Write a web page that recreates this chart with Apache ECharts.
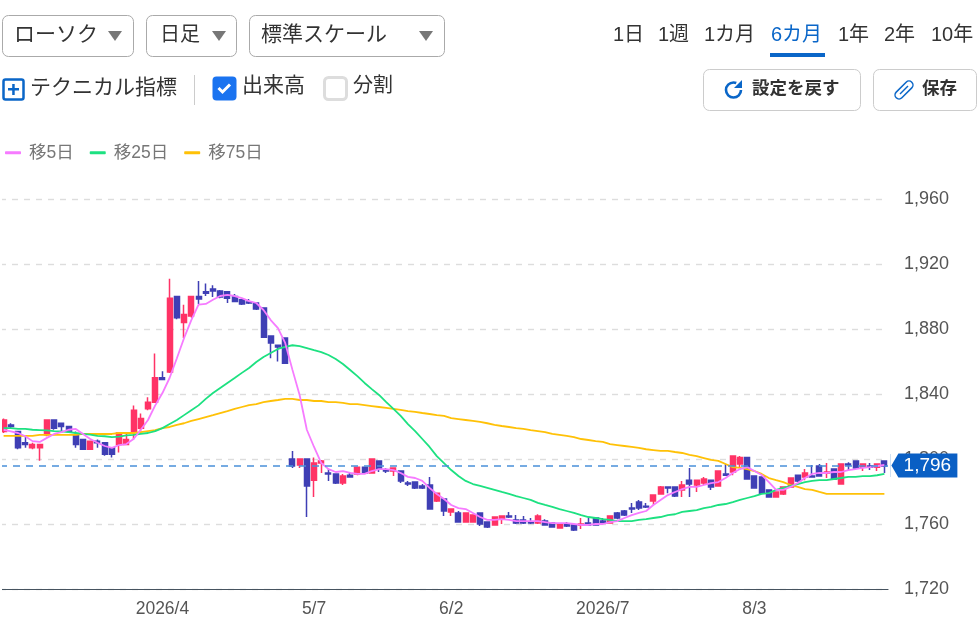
<!DOCTYPE html>
<html>
<head>
<meta charset="utf-8">
<style>html,body{margin:0;padding:0;background:#fff}#c{width:980px;height:629px}</style>
<script src="https://cdn.jsdelivr.net/npm/echarts@6/dist/echarts.min.js"></script>
</head>
<body>
<div id="c"></div>
<script>
const tickLabels = {22:'2026/4',43:'5/7',62:'6/2',83:'2026/7',104:'8/3'};
const yTicks = {min:1720,max:1960,interval:40};
const lastPrice = 1796;
// open, close, low, high
const candles = [
[1817,1824,1816,1825],[1821,1820,1819,1822],[1817,1807,1806,1817],[1810,1809,1807,1814],[1807,1809,1806,1810],
[1807,1809,1799,1809],[1815,1824,1814,1824],[1824,1819,1818,1824],[1822,1820,1816,1822],[1820,1817,1816,1820],
[1815,1809,1807,1817],[1812,1806,1806,1812],[1806,1811,1805.5,1811],[1811,1810,1807,1812],[1810,1803,1802,1810],
[1807,1803,1801,1807],[1809,1816,1804,1816],[1809,1812,1808.5,1816],[1817,1830,1812,1833],[1819,1825,1817,1828],
[1831,1835,1830,1838],[1835,1850,1835,1865],[1850,1849,1848.5,1854],[1853.5,1899,1853,1911],[1900,1887,1886,1900],
[1884,1889,1874.5,1895],[1888,1900,1887,1900],[1900,1898.5,1895.4,1909.5],[1903,1902,1900.3,1908],[1904.6,1903.4,1899.7,1907],
[1903.4,1899.7,1899,1904],[1903,1899,1896,1903],[1900,1897,1896.5,1901.5],[1898,1895.4,1894.8,1898],[1896.6,1896,1895.4,1898.5],
[1896,1892.3,1891.7,1896],[1893,1875,1875,1893],[1875.7,1871.4,1862,1875.7],[1870,1869,1860,1870],[1874.5,1859,1859,1875],
[1800,1795.7,1794.5,1805],[1796.3,1800,1794.5,1800],[1800,1783.4,1764.3,1800],[1787,1797.5,1776.6,1801],[1797.5,1798.8,1791.4,1799.4],
[1791.4,1790.8,1786.5,1793.8],[1790.8,1785.2,1784.6,1790.8],[1785.2,1789.5,1784,1790.8],[1790,1789,1788.5,1792],[1790.8,1795,1790,1795],
[1795,1791.4,1790.8,1795],[1791.4,1800,1791.4,1800],[1798.8,1793.8,1792,1798.8],[1793.2,1792.6,1791.4,1794.5],[1792.6,1794.5,1789.5,1794.5],
[1792.6,1786.5,1785.2,1792.6],[1785.2,1784.6,1783.4,1786.5],[1785.8,1782.2,1781.5,1785.8],[1783.4,1782.2,1781.5,1784.6],[1784,1769.2,1769.2,1789],
[1774.2,1779,1773.5,1779],[1775.4,1768,1765,1775.4],[1767.4,1769.2,1765,1769.2],[1766.8,1761.2,1761.2,1768],[1761.2,1766.8,1761.2,1766.8],
[1761.2,1765.5,1761.2,1765.5],[1766.8,1760,1758.8,1766.8],[1761.2,1758.2,1757.5,1761.2],[1759.4,1764.3,1759.4,1764.3],[1763,1765,1760,1765],
[1765,1764.3,1763.7,1767.4],[1762.5,1760.6,1760,1765.5],[1762.5,1760.6,1760,1765],[1761.2,1760.6,1760,1763.7],[1760.6,1765,1760,1766],
[1761.8,1759.4,1759,1763],[1760.6,1758.2,1758,1760.6],[1757.5,1760,1757.5,1760],[1760,1758.8,1758.2,1761.2],[1759.4,1756.3,1755.7,1759.4],
[1759.4,1760,1757,1763.7],[1760.6,1759.4,1759,1763.7],[1763.7,1759.4,1759.4,1763.7],[1761.8,1760.6,1760.6,1763.7],[1760.6,1765,1760.6,1765],
[1766.8,1763.7,1763,1767.4],[1768,1765.5,1765,1768.6],[1769.8,1769.2,1766.8,1773],[1773.5,1769.8,1768.6,1774.8],[1771,1770.5,1769.8,1773],
[1774.2,1777.8,1771.7,1777.8],[1778.5,1782.8,1778,1783.4],[1782.8,1782.2,1779,1782.8],[1782.8,1777.2,1776.6,1782.8],[1781,1784,1776.6,1786.5],
[1787,1784.6,1776.6,1794.5],[1784,1787,1779.7,1787],[1785.2,1787.7,1784,1789],[1787,1782.8,1781,1787],[1783.4,1792.6,1783.4,1792.6],
[1790.8,1790,1790,1797],[1792,1801.8,1790,1801.8],[1797,1801,1795,1801.8],[1801,1787.7,1787.7,1801],[1789.5,1782.2,1782.2,1789.5],
[1789,1779,1779,1789],[1781,1776.6,1776.6,1781],[1776.6,1779.7,1776.6,1779.7],[1778.5,1782.8,1777.8,1782.8],[1782.8,1788.3,1782.2,1788.3],
[1790,1786.5,1785.8,1790],[1789,1791.4,1787,1793.8],[1789.5,1789,1789,1796.3],[1795.7,1789.5,1789.5,1797],[1791.4,1792,1788.3,1797.5],
[1793.8,1787.7,1787.7,1793.8],[1784.6,1797,1784.6,1797],[1797,1796.3,1793.2,1798],[1798.8,1794.5,1794.5,1798.8],[1795,1797,1792.6,1797],
[1795.7,1795,1793.2,1797.5],[1795,1797,1792.6,1797],[1798.8,1795.7,1791.4,1798.8]
];
const ma5 = [1818,1817,1816,1814,1811,1810.5,1813,1815.4,1816.6,1818,1818.5,1815.4,1812.3,1810,1808,1806.8,1808.6,1809.2,1812.3,1818,1824,1833,1840.6,1850,1862,1874.5,1885.5,1895,1895.4,1898,1900.3,1901,1900.3,1899,1897.2,1896,1891.7,1885.5,1880.6,1871.4,1855,1839.4,1818,1807.4,1797.5,1793.8,1792,1792.6,1791.4,1790.8,1790.8,1792.6,1793.8,1793.8,1793.2,1791.4,1789,1788.3,1786.5,1782.2,1778.5,1775.4,1771.7,1769.8,1769.2,1766.8,1764.3,1762.5,1762.5,1763,1762.5,1761.8,1761.8,1761.8,1761.8,1761.2,1760.6,1760.6,1760.6,1760,1759.4,1759.4,1760,1760,1761.2,1761.8,1763.7,1765.5,1766.8,1768,1771.7,1774.8,1777.8,1779.7,1781.5,1782.8,1782.8,1784,1785.2,1785.8,1788.3,1791.4,1793.8,1795,1792.6,1790.2,1785.8,1781,1781,1782.8,1785.2,1788.3,1790.8,1791.4,1791.4,1792,1792,1793.2,1793.8,1794.5,1795,1795.7,1796.3];
const ma25 = [1819,1819,1818.5,1818.5,1818,1817.8,1817.6,1817.2,1817,1816.6,1816,1815.4,1815,1814.2,1814,1813.5,1813.8,1814.5,1814.8,1815.4,1816,1817.2,1819,1821.5,1824,1827,1830,1833,1837,1840.6,1843.7,1846.8,1849.8,1853,1856,1859.7,1862.8,1865.2,1867.7,1869,1870,1869.5,1868.3,1867,1865.8,1864,1861.5,1858.5,1854.8,1851,1846.8,1843,1839.4,1835,1830.8,1826.5,1821.5,1817.2,1812.3,1807.4,1801.8,1797.5,1793.2,1789.5,1786.5,1784.6,1783.4,1782.2,1781,1779.7,1778.5,1777.2,1776,1774.8,1773,1771.7,1770.5,1769.2,1768,1766.8,1765.5,1764.3,1763.7,1763,1762.5,1761.8,1761.8,1761.8,1762.5,1763,1763.7,1764.3,1765.5,1766,1767.4,1768,1768.6,1769.8,1770.5,1771.7,1772.3,1773.5,1774.8,1776,1777.2,1778.5,1779,1781,1782.2,1783.4,1784.6,1785.8,1786.5,1787,1787,1787.7,1788.3,1789,1789,1789.5,1789.5,1790,1790.8];
const ma75 = [1814.2,1814.2,1814.2,1814.2,1814.2,1814.8,1814.8,1814.8,1814.8,1814.8,1814.8,1815.4,1815.4,1815.4,1815.4,1815.4,1816,1816,1816,1816.6,1817.2,1817.8,1819,1819.7,1821,1822,1823.4,1824.6,1825.8,1827,1828.3,1829.5,1830.8,1832,1833.2,1833.8,1835,1835.7,1836.3,1837,1837,1836.3,1836.3,1835.7,1835.7,1835,1835,1834.5,1833.8,1833.8,1833.2,1832.6,1832,1831.4,1830.8,1830.2,1829.5,1829,1828.3,1827.7,1827,1826.5,1825.2,1824.6,1824,1823.4,1822.8,1822,1821,1820.3,1819.7,1819,1818.5,1817.8,1817.2,1816.6,1815.4,1814.8,1814.2,1813.5,1812.3,1811.7,1811,1810.5,1809.2,1808.6,1808,1807.4,1806.8,1806,1805.5,1805,1805,1804.3,1803.7,1802.5,1801.8,1800.6,1799.4,1798.8,1796.9,1795,1794.5,1793.8,1792.6,1790.8,1788.3,1787,1785.8,1784,1782.8,1781.5,1781,1779.7,1778.5,1778.5,1778.5,1778.5,1778.5,1778.5,1778.5,1778.5,1778.5];
const categories = candles.map((_, i) => tickLabels[i] || ('d' + i));

const CJK = "'Liberation Sans','Noto Sans CJK JP',sans-serif";
const dark = '#333333', blue = '#0a66c8';
function txt(x, y, s, size, fill, weight){
  return {type:'text', silent:true, z:10, x:x, y:y+1, style:{text:s, font:(weight||'normal')+' '+size+'px '+CJK, fill:fill||dark, textVerticalAlign:'middle', textAlign:'left'}};
}
function box(x, y, w, h, stroke, lw, r, fill){
  return {type:'rect', silent:true, z:9, shape:{x:x+.5,y:y+.5,width:w,height:h,r:r}, style:{fill:fill||'#fff',stroke:stroke,lineWidth:lw}};
}
function tri(x, y){
  return {type:'polygon', silent:true, z:10, shape:{points:[[x,y],[x+14,y],[x+7,y+10]]}, style:{fill:'#777'}};
}
const chrome = [
  {type:'rect', silent:true, z:9, shape:{x:0,y:190,width:2,height:405}, style:{fill:'#fff'}},
  {type:'line', silent:true, z:9, shape:{x1:890.5,y1:454,x2:890.5,y2:477}, style:{stroke:'#cfe0f2',lineWidth:1}},
  box(2,15,131,41,'#aaaaaa',1,6), txt(14,34,'ローソク',21), tri(108,31),
  box(146,15,90,41,'#aaaaaa',1,6), txt(160,34,'日足',20), tri(212,31),
  box(249,15,195,41,'#aaaaaa',1,6), txt(261,34,'標準スケール',21), tri(419,31),
  txt(613,34,'1日',20), txt(658,34,'1週',20), txt(704,34,'1カ月',20), txt(771,34,'6カ月',20,blue),
  txt(838,34,'1年',20), txt(884,34,'2年',20), txt(931,34,'10年',20),
  {type:'rect', silent:true, z:10, shape:{x:770,y:53,width:55,height:4}, style:{fill:blue}},
  box(3,79,20,20,blue,2.5,2), 
  {type:'rect', silent:true, z:10, shape:{x:8,y:88,width:11,height:2.5}, style:{fill:blue}},
  {type:'rect', silent:true, z:10, shape:{x:12.2,y:84,width:2.5,height:11}, style:{fill:blue}},
  txt(30,87,'テクニカル指標',21),
  {type:'line', silent:true, z:10, shape:{x1:194.5,y1:75,x2:194.5,y2:105}, style:{stroke:'#cccccc',lineWidth:1}},
  box(212,76,24,24,'#1a73f0',0,4,'#1a73f0'),
  {type:'polyline', silent:true, z:10, shape:{points:[[218.5,88],[222.5,92],[230,84.5]]}, style:{stroke:'#fff',lineWidth:3,fill:null}},
  txt(242,85,'出来高',21),
  box(324,77,22,22,'#dddddd',3,4),
  txt(353,85,'分割',20),
  box(703,69,157,41,'#cccccc',1,6),
  {type:'arc', silent:true, z:10, shape:{cx:733.5,cy:90,r:7.5,startAngle:0,endAngle:Math.PI*1.62,clockwise:true}, style:{stroke:blue,lineWidth:2.6,fill:null}},
  {type:'polygon', silent:true, z:10, shape:{points:[[742,80],[742,88],[734,88]]}, style:{fill:blue}},
  txt(752,88,'設定を戻す',17.5,'#333','bold'),
  box(873,69,103,41,'#cccccc',1,6),
  {type:'rect', silent:true, z:10, x:904, y:90, originX:0, originY:0, rotation:Math.PI/4, shape:{x:-11,y:-4,width:22,height:8,r:4}, style:{stroke:blue,lineWidth:1.5,fill:null}},
  {type:'line', silent:true, z:10, shape:{x1:900,y1:94,x2:908,y2:86}, style:{stroke:blue,lineWidth:1.5}},
  txt(922,88,'保存',17.5,'#333','bold')
];

const chart = echarts.init(document.getElementById('c'), null, {renderer:'canvas'});
chart.setOption({
  animation:false,
  backgroundColor:'#fff',
  legend:{
    left:5, top:144, padding:0, itemWidth:16, itemHeight:3, itemGap:16, icon:'roundRect',
    textStyle:{color:'#777777', fontSize:17.5, fontFamily:CJK, padding:[0,0,0,3]},
    data:['移5日','移25日','移75日']
  },
  grid:{left:0, top:199, width:888, height:390, containLabel:false},
  xAxis:{
    type:'category', data:categories, boundaryGap:true,
    axisLine:{show:true,lineStyle:{color:'#46535f',width:1.2}},
    axisTick:{show:false},
    axisLabel:{color:'#555555',fontSize:17.5,fontFamily:CJK,margin:11,
      interval:(i)=>tickLabels[i]!==undefined, formatter:(v)=>v.charAt(0)==='d'?'':v},
    splitLine:{show:false}
  },
  yAxis:{
    type:'value', position:'right', scale:true,
    min:yTicks.min, max:yTicks.max, interval:yTicks.interval,
    axisLine:{show:false}, axisTick:{show:false},
    axisLabel:{color:'#555555',fontSize:18,fontFamily:CJK,margin:16,padding:[5,0,0,0],formatter:(v)=>v.toLocaleString('en-US')},
    splitLine:{show:true,lineStyle:{color:'#dddddd',type:[6,6],width:1.4}}
  },
  series:[
    {type:'candlestick', name:'ローソク', data:candles, barWidth:5.5, z:2,
      itemStyle:{color:'#ff3366',color0:'#3f3fb5',borderColor:'#ff3366',borderColor0:'#3f3fb5',borderWidth:1.5},
      markLine:{silent:true, symbol:'none', animation:false, data:[{yAxis:lastPrice}], label:{show:false},
        lineStyle:{color:'#4a90d9',type:[7,6],width:1.5}},
      markPoint:{silent:true, animation:false, symbol:'path://M0,12 L7,0 H66 V24 H7 Z', symbolSize:[66,24], symbolKeepAspect:false, symbolOffset:[40,0],
        itemStyle:{color:'#0a5fc4'},
        label:{show:true,color:'#fff',fontSize:19,fontFamily:CJK,formatter:()=>lastPrice.toLocaleString('en-US'),offset:[3,0]},
        data:[{coord:[candles.length-1,lastPrice]}]}
    },
    {type:'line', name:'移75日', data:ma75, showSymbol:false, symbol:'none', z:3, itemStyle:{color:'#ffc107'}, lineStyle:{color:'#ffc107',width:1.8}},
    {type:'line', name:'移25日', data:ma25, showSymbol:false, symbol:'none', z:3, itemStyle:{color:'#1de181'}, lineStyle:{color:'#1de181',width:1.8}},
    {type:'line', name:'移5日', data:ma5, showSymbol:false, symbol:'none', z:4, itemStyle:{color:'#f67bff'}, lineStyle:{color:'#f67bff',width:1.8}}
  ],
  graphic:chrome
});
</script>
</body>
</html>
